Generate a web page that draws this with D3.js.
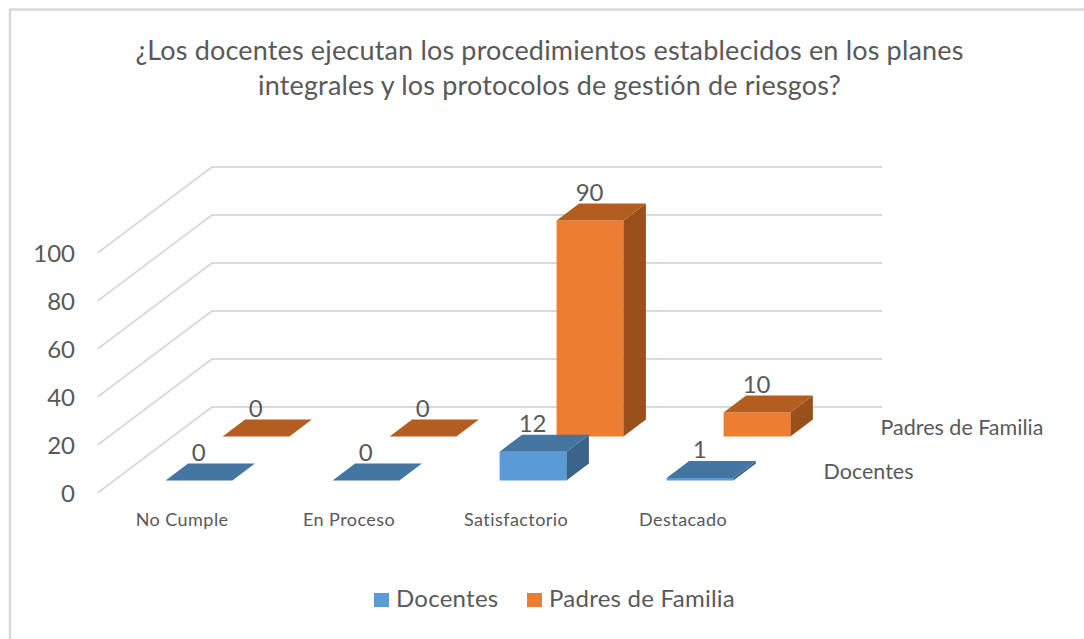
<!DOCTYPE html>
<html>
<head>
<meta charset="utf-8">
<script src="https://d3js.org/d3.v7.min.js"></script>
<style>
    html, body { margin: 0; padding: 0; background: #fff; }
    svg { display: block; }
    text { font-family: Lato, "Open Sans", sans-serif; fill: #595959; }
</style>
</head>
<body>
<div id="chart"></div>
<script>
var titleLines = [
    '¿Los docentes ejecutan los procedimientos establecidos en los planes',
    'integrales y los protocolos de gestión de riesgos?'
];
var categories = ['No Cumple', 'En Proceso', 'Satisfactorio', 'Destacado'];
var seriesNames = ['Docentes', 'Padres de Familia'];
var docentes = [0, 0, 12, 1];
var padres = [0, 0, 90, 10];
var yTicks = [0, 20, 40, 60, 80, 100];

var seriesValues = [docentes, padres];
var w = 1084; //width
var h = 639; //height
var faces = [
    { front: '#5b9bd5', top: '#4575a1', side: '#3a6489' },
    { front: '#ed7d31', top: '#b35d20', side: '#99501b' }
];

var svg = d3.select('#chart')
    .append('svg')
    .attr('width', w)
    .attr('height', h);

//chart frame, only top and left show in the picture
svg.append('path')
    .attr('d', 'M10,' + h + 'V9.5H' + w)
    .attr('fill', 'none')
    .attr('stroke', '#d9d9d9')
    .attr('stroke-width', 2.5);

svg.selectAll('.title')
    .data(titleLines)
    .enter()
    .append('text')
    .attr('class', 'title')
    .attr('x', 549.5)
    .attr('y', function(d, i) { return 60 + i * 35; })
    .attr('text-anchor', 'middle')
    .style('font-size', '27px')
    .style('letter-spacing', '0.17px')
    .text(function(d) { return d; });

//scales
var y = d3.scaleLinear().domain([0, 100]).range([407, 167]);
var x = d3.scaleBand()
    .domain(categories)
    .range([115.5, 783.5])
    .paddingInner(0.6)
    .paddingOuter(0.3);
var depthX = d3.scalePoint().domain(seriesNames).range([0, 57]);
var depthY = d3.scalePoint().domain(seriesNames).range([44, 0]);

var baseY = 436.5; //floor of the back series
var wallDx = -114.5;
var wallDy = 86;
var barDx = 22.5;
var barDy = -17;

//gridlines: back wall plus side wall
svg.selectAll('.grid')
    .data(yTicks)
    .enter()
    .append('path')
    .attr('class', 'grid')
    .attr('fill', 'none')
    .attr('stroke', '#d9d9d9')
    .attr('stroke-width', 1.8)
    .attr('d', function(d) {
        return 'M' + (212 + wallDx) + ',' + (y(d) + wallDy) + 'L212,' + y(d) + 'H882';
    });

var yAxis = d3.axisLeft(y)
    .tickValues(yTicks)
    .tickSize(0)
    .tickPadding(0);

var axisG = svg.append('g')
    .attr('transform', 'translate(75,' + (wallDy + 1) + ')')
    .call(yAxis);
axisG.select('.domain').remove();
axisG.selectAll('text')
    .style('font-size', '24px')
    .style('font-family', 'Lato')
    .style('fill', '#595959');

//bars, back series first
var barData = [];
seriesNames.slice().reverse().forEach(function(name) {
    var values = seriesValues[seriesNames.indexOf(name)];
    categories.forEach(function(c, i) {
        barData.push({ name: name, cat: c, value: values[i], col: faces[seriesNames.indexOf(name)] });
    });
});

var bars = svg.selectAll('.bar')
    .data(barData)
    .enter()
    .append('g')
    .attr('class', 'bar');

function barBox(d) {
    var x0 = x(d.cat) + depthX(d.name);
    var x1 = x0 + x.bandwidth();
    var bottom = baseY + depthY(d.name);
    var top = bottom - (y(0) - y(d.value));
    return { x0: x0, x1: x1, bottom: bottom, top: top };
}

bars.append('path')
    .attr('fill', function(d) { return d.col.front; })
    .attr('d', function(d) {
        var b = barBox(d);
        return 'M' + b.x0 + ',' + b.top + 'H' + b.x1 + 'V' + b.bottom + 'H' + b.x0 + 'Z';
    });

bars.append('path')
    .attr('fill', function(d) { return d.col.side; })
    .attr('d', function(d) {
        var b = barBox(d);
        return 'M' + b.x1 + ',' + b.top + 'l' + barDx + ',' + barDy + 'V' + (b.bottom + barDy) +
            'L' + b.x1 + ',' + b.bottom + 'Z';
    });

bars.append('path')
    .attr('fill', function(d) { return d.col.top; })
    .attr('d', function(d) {
        var b = barBox(d);
        return 'M' + b.x0 + ',' + b.top + 'l' + barDx + ',' + barDy + 'H' + (b.x1 + barDx) +
            'L' + b.x1 + ',' + b.top + 'Z';
    });

bars.append('text')
    .attr('x', function(d) { return barBox(d).x0 + 33; })
    .attr('y', function(d) { return barBox(d).top + barDy - 3; })
    .attr('text-anchor', 'middle')
    .style('font-size', '24px')
    .text(function(d) { return d.value; });

//category labels
svg.selectAll('.cat')
    .data(categories)
    .enter()
    .append('text')
    .attr('class', 'cat')
    .attr('x', function(d) { return x(d) + 16.5; })
    .attr('y', 526)
    .attr('text-anchor', 'middle')
    .style('font-size', '18px')
    .style('letter-spacing', '0.45px')
    .text(function(d) { return d; });

//series names on the depth axis
svg.selectAll('.depth')
    .data(seriesNames)
    .enter()
    .append('text')
    .attr('class', 'depth')
    .attr('x', function(d) { return 823.5 + depthX(d); })
    .attr('y', function(d) { return 435 + depthY(d); })
    .style('font-size', '21.5px')
    .text(function(d) { return d; });

//legend
var legendX = d3.scaleOrdinal().domain(seriesNames).range([374, 527]);
var legend = svg.selectAll('.legend')
    .data(seriesNames)
    .enter()
    .append('g')
    .attr('class', 'legend')
    .attr('transform', function(d) { return 'translate(' + legendX(d) + ',593)'; });

legend.append('rect')
    .attr('width', 15)
    .attr('height', 14)
    .attr('fill', function(d, i) { return faces[i].front; });

legend.append('text')
    .attr('x', 22)
    .attr('y', 14)
    .style('font-size', '24px')
    .style('letter-spacing', '0.25px')
    .text(function(d) { return d; });
</script>
</body>
</html>
